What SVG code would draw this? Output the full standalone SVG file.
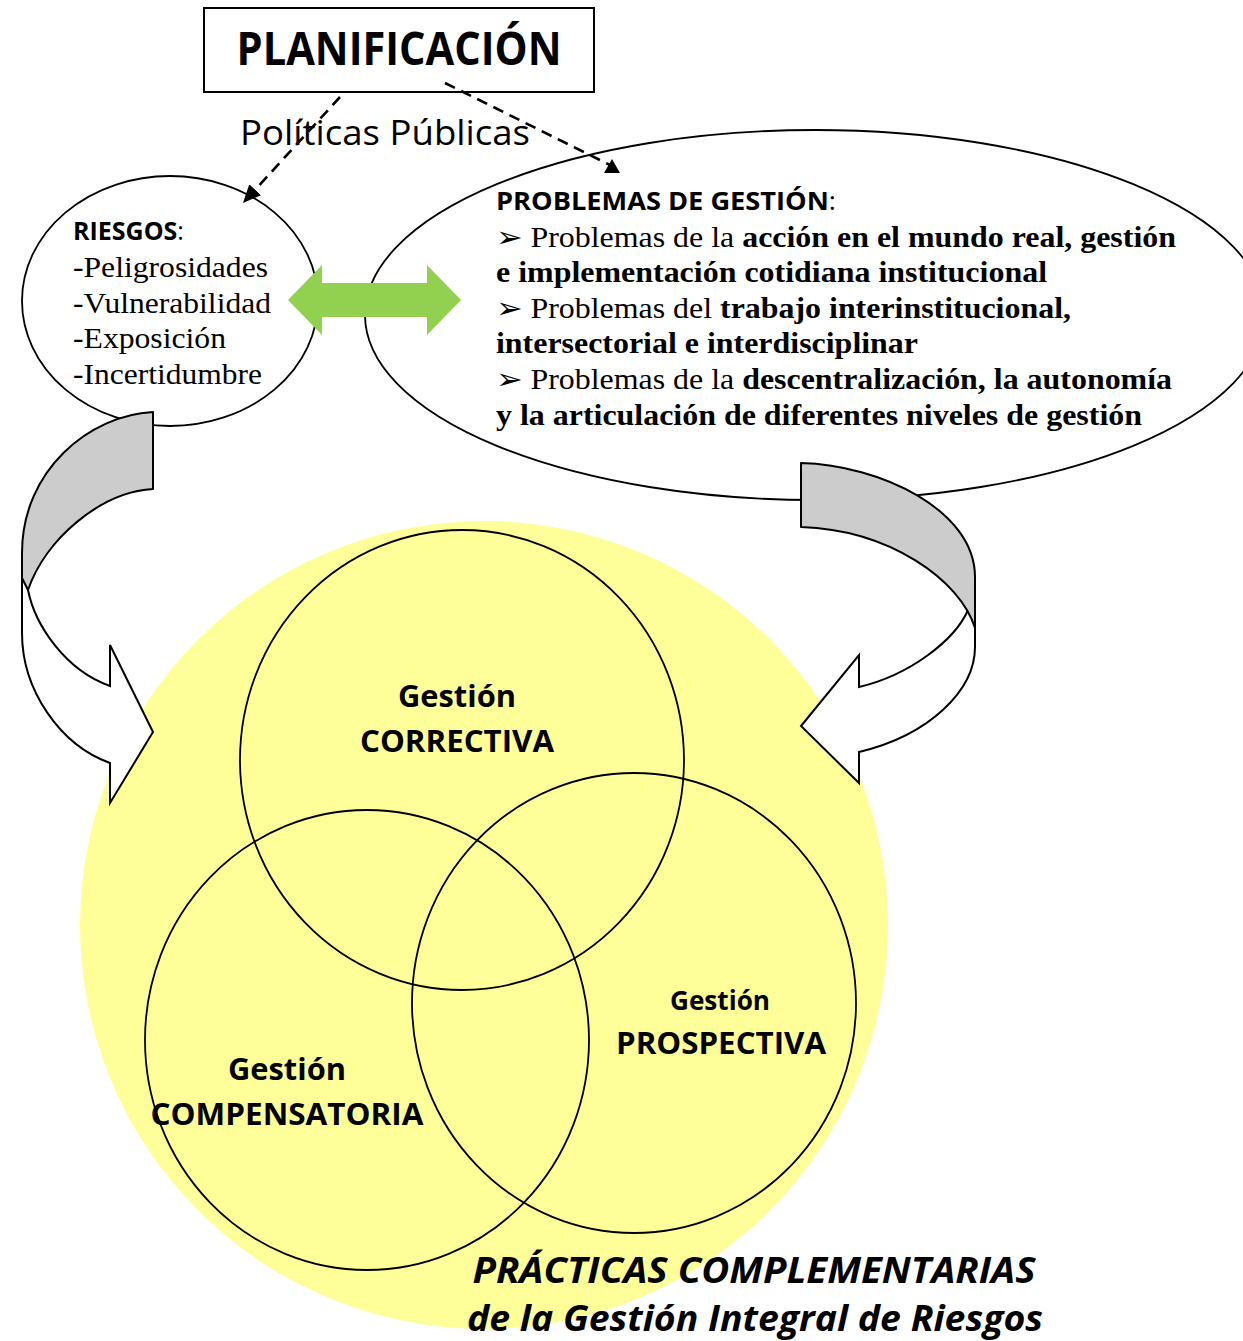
<svg xmlns="http://www.w3.org/2000/svg" width="1243" height="1341" viewBox="0 0 1243 1341">
<style>
.sans{font-family:"Open Sans","Liberation Sans",sans-serif;fill:#000}
.serif{font-family:"Liberation Serif","Times New Roman",serif;fill:#000}
.b{font-weight:bold}
.ln{fill:none;stroke:#000;stroke-width:1.8}
.dash{fill:none;stroke:#000;stroke-width:2.6;stroke-dasharray:11,7}
.ring{fill:none;stroke:#000;stroke-width:1.8}
.grey{fill:#cccccc;stroke:#000;stroke-width:2;stroke-linejoin:round}
.white{fill:#fff;stroke:#000;stroke-width:2;stroke-linejoin:miter}
</style>
<defs>
<marker id="arrL" markerUnits="userSpaceOnUse" markerWidth="20" markerHeight="16" refX="18" refY="8" orient="auto"><path d="M0,0 L18,8 L0,16 Z" fill="#000"/></marker>
<marker id="tri" markerUnits="userSpaceOnUse" markerWidth="18" markerHeight="16" refX="9" refY="8" orient="0"><path d="M1,15 L9,1 L17,15 Z" fill="#000"/></marker>
</defs>
<rect width="1243" height="1341" fill="#fff"/>

<g id="practicas">
<circle cx="484" cy="925" r="404" fill="#ffff99"/>
</g>

<g id="correctiva">
<ellipse class="ring" cx="462" cy="760" rx="222" ry="230"/>
<text class="sans b" x="457" y="707" font-size="30" text-anchor="middle" textLength="118" lengthAdjust="spacingAndGlyphs">Gestión</text>
<text class="sans b" x="457" y="752" font-size="30" text-anchor="middle" textLength="194" lengthAdjust="spacingAndGlyphs">CORRECTIVA</text>
</g>
<g id="compensatoria">
<ellipse class="ring" cx="367" cy="1040" rx="222" ry="230"/>
<text class="sans b" x="287" y="1080" font-size="30" text-anchor="middle" textLength="118" lengthAdjust="spacingAndGlyphs">Gestión</text>
<text class="sans b" x="287" y="1125" font-size="30" text-anchor="middle" textLength="273" lengthAdjust="spacingAndGlyphs">COMPENSATORIA</text>
</g>
<g id="prospectiva">
<ellipse class="ring" cx="634" cy="1003" rx="222" ry="230"/>
<text class="sans b" x="720" y="1010" font-size="26" text-anchor="middle" textLength="100" lengthAdjust="spacingAndGlyphs">Gestión</text>
<text class="sans b" x="721" y="1054" font-size="30" text-anchor="middle" textLength="210" lengthAdjust="spacingAndGlyphs">PROSPECTIVA</text>
</g>

<g id="practicas-label">
<text class="sans b" x="754" y="1283" font-size="36" font-style="italic" text-anchor="middle" textLength="563" lengthAdjust="spacingAndGlyphs">PRÁCTICAS COMPLEMENTARIAS</text>
<text class="sans b" x="755" y="1331" font-size="36" font-style="italic" text-anchor="middle" textLength="576" lengthAdjust="spacingAndGlyphs">de la Gestión Integral de Riesgos</text>
</g>

<g id="riesgos">
<ellipse class="ln" cx="170" cy="301" rx="148" ry="125" fill="#fff"/>
<text class="sans" x="73" y="240" font-size="25"><tspan class="b">RIESGOS</tspan>:</text>
<text class="serif" x="73" y="277" font-size="29" textLength="195" lengthAdjust="spacingAndGlyphs">-Peligrosidades</text>
<text class="serif" x="73" y="313" font-size="29" textLength="198" lengthAdjust="spacingAndGlyphs">-Vulnerabilidad</text>
<text class="serif" x="73" y="348" font-size="29" textLength="153" lengthAdjust="spacingAndGlyphs">-Exposición</text>
<text class="serif" x="73" y="384" font-size="29" textLength="189" lengthAdjust="spacingAndGlyphs">-Incertidumbre</text>
</g>

<g id="problemas">
<ellipse class="ln" cx="815" cy="315" rx="450" ry="185" fill="#fff"/>
<text class="sans" x="496" y="210" font-size="25" textLength="340" lengthAdjust="spacingAndGlyphs"><tspan class="b">PROBLEMAS DE GESTIÓN</tspan>:</text>
<text class="serif" x="496" y="247" font-size="29" textLength="680" lengthAdjust="spacingAndGlyphs">➢ Problemas de la <tspan class="b">acción en el mundo real, gestión</tspan></text>
<text class="serif b" x="496" y="282" font-size="29" textLength="551" lengthAdjust="spacingAndGlyphs">e implementación cotidiana institucional</text>
<text class="serif" x="496" y="318" font-size="29" textLength="575" lengthAdjust="spacingAndGlyphs">➢ Problemas del <tspan class="b">trabajo interinstitucional,</tspan></text>
<text class="serif b" x="496" y="353" font-size="29" textLength="422" lengthAdjust="spacingAndGlyphs">intersectorial e interdisciplinar</text>
<text class="serif" x="496" y="389" font-size="29" textLength="676" lengthAdjust="spacingAndGlyphs">➢ Problemas de la <tspan class="b">descentralización, la autonomía</tspan></text>
<text class="serif b" x="496" y="425" font-size="29" textLength="646" lengthAdjust="spacingAndGlyphs">y la articulación de diferentes niveles de gestión</text>
</g>

<g id="planificacion">
<rect x="204" y="8" width="390" height="84" fill="#fff" stroke="#000" stroke-width="2"/>
<text class="sans b" x="399" y="65" font-size="46" text-anchor="middle" textLength="325" lengthAdjust="spacingAndGlyphs">PLANIFICACIÓN</text>
</g>

<g id="connectors">
<path class="white" d="M22,555 L22,633 C22,690 60,745 110,763 L110,803 L153,732 L110,645 L110,686 C65,670 35,625 28,590 Z"/>
<path class="grey" d="M153,412 C90,415 22,470 22,553 L22,578 L28,590 C45,540 100,492 153,489 Z"/>
<path class="white" d="M975,600 L975,647 C975,690 930,735 859,752 L859,783 L801,726 L859,655 L859,687 C910,675 955,640 968,610 Z"/>
<path class="grey" d="M801,463 C880,465 975,510 975,577 L975,628 C960,580 890,530 801,527 Z"/>
<path d="M288,300 L322,265 L322,283 L427,283 L427,265 L461,300 L427,335 L427,317 L322,317 L322,335 Z" fill="#92d050"/>
<line class="dash" x1="340" y1="97" x2="243" y2="203" marker-end="url(#arrL)"/>
<line class="dash" x1="445" y1="83" x2="612" y2="166" marker-end="url(#tri)"/>
</g>

<g id="politicas-label">
<text class="sans" x="240" y="145" font-size="34" textLength="290" lengthAdjust="spacingAndGlyphs">Políticas Públicas</text>
</g>
</svg>
